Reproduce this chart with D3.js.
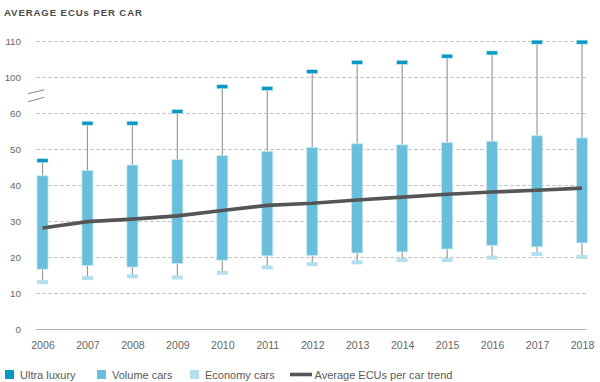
<!DOCTYPE html>
<html>
<head>
<meta charset="utf-8">
<script src="https://cdn.jsdelivr.net/npm/d3@7"></script>
<style>
  html, body { margin: 0; padding: 0; background: #fff; }
  svg { display: block; }
</style>
</head>
<body>
<svg id="chart" width="600" height="382"></svg>
<script>
// ---------- data ----------
const years = ["2006","2007","2008","2009","2010","2011","2012","2013","2014","2015","2016","2017","2018"];
const ultraLuxury = [46.7, 57.1, 57.1, 61.4, 88.9, 87.0, 101.4, 104.0, 104.0, 105.7, 106.6, 109.6, 109.6];
const volumeHigh  = [42.5, 44.0, 45.5, 47.0, 48.1, 49.3, 50.4, 51.4, 51.1, 51.7, 52.1, 53.6, 53.0];
const volumeLow   = [16.6, 17.6, 17.2, 18.2, 19.1, 20.3, 20.4, 21.1, 21.4, 22.2, 23.2, 22.8, 23.9];
const economy     = [13.0, 14.1, 14.6, 14.3, 15.6, 17.1, 18.0, 18.5, 19.1, 19.1, 19.8, 20.8, 20.0];
const trend       = [28.0, 29.8, 30.5, 31.4, 32.9, 34.3, 34.9, 35.8, 36.6, 37.4, 38.0, 38.5, 39.1];
const yTicks = [0, 10, 20, 30, 40, 50, 60, 100, 110];
const legendLabels = ["Ultra luxury", "Volume cars", "Economy cars", "Average ECUs per car trend"];
const title = "AVERAGE ECUs PER CAR";

// ---------- styling ----------
const C = { ultra: "#0898c2", volume: "#68bedb", economy: "#b4e0ed", trend: "#555555",
            grid: "#c6c6c6", text: "#5a5a5a", whisker: "#9a9a9a" };
const FONT = "'Liberation Sans', Arial, sans-serif";
const NARROW = "'Liberation Sans Narrow', 'Liberation Sans', Arial, sans-serif";

const svg = d3.select("#chart");
const yBottom = 329, step = 36.04;
const y = d3.scaleLinear()
  .domain([0, 60, 100, 110])
  .range([yBottom, yBottom - 6 * step, yBottom - 7 * step, yBottom - 8 * step]);
const x = d3.scalePoint().domain(years).range([42.5, 582]);
const gridX0 = 36, gridX1 = 587;
const boxW = 11;

// title
svg.append("text")
  .attr("x", 4).attr("y", 16)
  .attr("font-family", FONT).attr("font-weight", "bold")
  .attr("font-size", 9.6).attr("letter-spacing", 0.9)
  .attr("fill", "#4a4a4a").text(title);

// gridlines
const gridG = svg.append("g");
gridG.selectAll("line").data(yTicks).join("line")
  .attr("x1", gridX0).attr("x2", gridX1)
  .attr("y1", d => Math.round(y(d)) + 0.5).attr("y2", d => Math.round(y(d)) + 0.5)
  .attr("stroke", d => d === 0 ? "#b4b4b4" : C.grid)
  .attr("stroke-width", 1)
  .attr("stroke-dasharray", d => d === 0 ? null : "4,2");

// y axis labels
const yAxis = d3.axisLeft(y).tickValues(yTicks).tickSize(0).tickPadding(0);
const yG = svg.append("g").attr("transform", "translate(21,0)").call(yAxis);
yG.select(".domain").remove();
yG.selectAll("text").attr("font-family", FONT).attr("font-size", 9.8).attr("fill", "#666")
  .attr("dy", "0.35em");

// axis break marks
const brk = svg.append("g").attr("stroke", "#8a8a8a").attr("stroke-width", 1);
const yb = (y(60) + y(100)) / 2;
brk.append("line").attr("x1", 28).attr("x2", 44.5).attr("y1", yb - 1).attr("y2", yb - 5);
brk.append("line").attr("x1", 28).attr("x2", 44.5).attr("y1", yb + 7).attr("y2", yb + 2.5);

// x axis labels
const xAxis = d3.axisBottom(x).tickSize(0).tickPadding(0);
const xG = svg.append("g").attr("transform", "translate(0,341)").call(xAxis);
xG.select(".domain").remove();
xG.selectAll("text").attr("font-family", FONT).attr("font-size", 10.6).attr("fill", "#666")
  .attr("dy", "0.71em");

// whiskers
const cols = svg.append("g").selectAll("g").data(years).join("g");
cols.append("line")
  .attr("x1", d => x(d)).attr("x2", d => x(d))
  .attr("y1", (d, i) => y(ultraLuxury[i])).attr("y2", (d, i) => y(volumeHigh[i]))
  .attr("stroke", C.whisker).attr("stroke-width", 1.2);
cols.append("line")
  .attr("x1", d => x(d)).attr("x2", d => x(d))
  .attr("y1", (d, i) => y(volumeLow[i])).attr("y2", (d, i) => y(economy[i]))
  .attr("stroke", C.whisker).attr("stroke-width", 1.2);

// volume boxes
cols.append("rect")
  .attr("x", d => x(d) - boxW / 2).attr("width", boxW)
  .attr("y", (d, i) => y(volumeHigh[i]))
  .attr("height", (d, i) => y(volumeLow[i]) - y(volumeHigh[i]))
  .attr("fill", C.volume).attr("stroke", "#c4e6f1").attr("stroke-width", 0.8);

// ultra luxury caps
cols.append("rect")
  .attr("x", d => x(d) - boxW / 2).attr("width", boxW)
  .attr("y", (d, i) => y(ultraLuxury[i]) - 2).attr("height", 4)
  .attr("fill", C.ultra).attr("stroke", "#bfe3f0").attr("stroke-width", 0.6);

// economy caps
cols.append("rect")
  .attr("x", d => x(d) - boxW / 2).attr("width", boxW)
  .attr("y", (d, i) => y(economy[i]) - 2).attr("height", 4)
  .attr("fill", C.economy);

// trend line
const line = d3.line().x((d, i) => x(years[i])).y(d => y(d));
svg.append("path").datum(trend)
  .attr("d", line).attr("fill", "none")
  .attr("stroke", C.trend).attr("stroke-width", 3.6);

// legend
const legendX = [5, 97, 190, 290];
const legendColors = [C.ultra, C.volume, C.economy, C.trend];
const lg = svg.append("g").selectAll("g").data(legendLabels).join("g")
  .attr("transform", (d, i) => `translate(${legendX[i]},370)`);
lg.filter((d, i) => i < 3).append("rect")
  .attr("width", 9).attr("height", 9)
  .attr("fill", (d, i) => legendColors[i]);
lg.filter((d, i) => i === 3).append("line")
  .attr("x1", 0).attr("x2", 22).attr("y1", 4.5).attr("y2", 4.5)
  .attr("stroke", C.trend).attr("stroke-width", 3.6);
lg.append("text")
  .attr("x", (d, i) => i === 3 ? 24.5 : 15).attr("y", 8.5)
  .attr("font-family", NARROW).attr("font-size", 11).attr("fill", C.text)
  .text(d => d);
</script>
</body>
</html>
